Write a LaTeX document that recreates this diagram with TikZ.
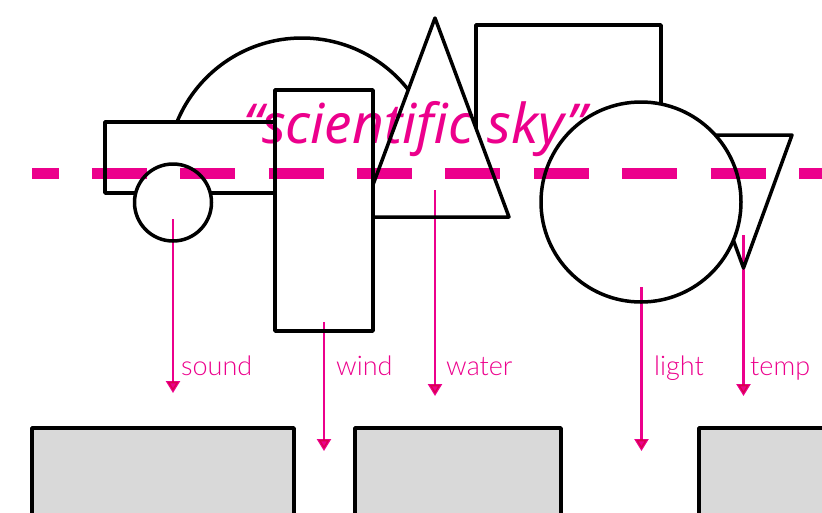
\documentclass[tikz,border=0pt]{standalone}
\usepackage{fontspec}
\usetikzlibrary{arrows.meta}
\newfontfamily\titlefont{Noto Sans}
\newfontfamily\labelfont{Lato Light}
\definecolor{skypink}{HTML}{EC008C}
\definecolor{boxgray}{HTML}{D9D9D9}
\tikzset{
  shape line/.style={draw=black, line width=3.5pt, fill=white, line join=round},
  ground box/.style={draw=black, line width=3.5pt, fill=boxgray, line join=round},
  feed/.style={draw=skypink, line width=2.4pt, -{Triangle[width=14pt,length=12pt]}},
  feed label/.style={text=skypink, font=\labelfont\fontsize{27}{31}\selectfont,
    anchor=base west, inner sep=0pt},
  horizon/.style={draw=skypink, line width=11pt,
    dash pattern=on 55pt off 33.375pt, dash phase=28.4pt},
}
\begin{document}
\begin{tikzpicture}[x=1pt, y=-1pt]
  \useasboundingbox (0,0) rectangle (822,512);
  \clip (0,0) rectangle (822,512);

  % the sky shapes, back to front
  \fill[white] (167,173) arc[start angle=180, end angle=360, radius=135] -- cycle;
  \draw[line width=3.5pt] (167,173) arc[start angle=180, end angle=360, radius=135];
  \fill[white] (476,25) rectangle (661,200);
  \draw[line width=3.5pt, line join=round] (476,200) -- (476,25) -- (661,25) -- (661,200);
  \path[shape line] (361,217) -- (435,18) -- (509,217) -- cycle;
  \path[shape line] (105,122) rectangle (275,193);
  \path[shape line] (173,202.5) circle[radius=38.5];
  \path[shape line] (275,90) rectangle (373,331);
  \path[shape line] (695,135) -- (792,135) -- (743.5,268) -- cycle;
  \path[shape line] (641,202) circle[radius=100];

  % ground boxes
  \path[ground box] (32,428) rectangle (294,540);
  \path[ground box] (355,428) rectangle (561,540);
  \path[ground box] (699,428) rectangle (840,540);

  % feeds from the sky
  \coordinate (soundA) at (173,219);   \coordinate (soundB) at (173,393);
  \coordinate (windA)  at (324,322);   \coordinate (windB)  at (324,451);
  \coordinate (waterA) at (435,190);   \coordinate (waterB) at (435,396);
  \coordinate (lightA) at (641.5,287); \coordinate (lightB) at (641.5,451);
  \coordinate (tempA)  at (743.5,235); \coordinate (tempB)  at (743.5,396);
  \coordinate (hzA) at (32,173);       \coordinate (hzB) at (830,173);

  \begin{scope}[blend mode=multiply]
    \draw[horizon] (hzA) -- (hzB);
    \node[text=skypink, font=\titlefont\itshape\fontsize{55}{60}\selectfont,
      anchor=base, inner sep=0pt] (title) at (415,143) {“scientific sky”};
    \draw[feed] (soundA) -- (soundB);
    \draw[feed] (windA) -- (windB);
    \draw[feed] (waterA) -- (waterB);
    \draw[feed] (lightA) -- (lightB);
    \draw[feed] (tempA) -- (tempB);
    \node[feed label] (sound) at (181,375) {sound};
    \node[feed label] (wind)  at (336,375) {wind};
    \node[feed label] (water) at (446,375) {water};
    \node[feed label] (light) at (654,375) {light};
    \node[feed label] (temp)  at (750,375) {temp};
  \end{scope}
\end{tikzpicture}
\end{document}
